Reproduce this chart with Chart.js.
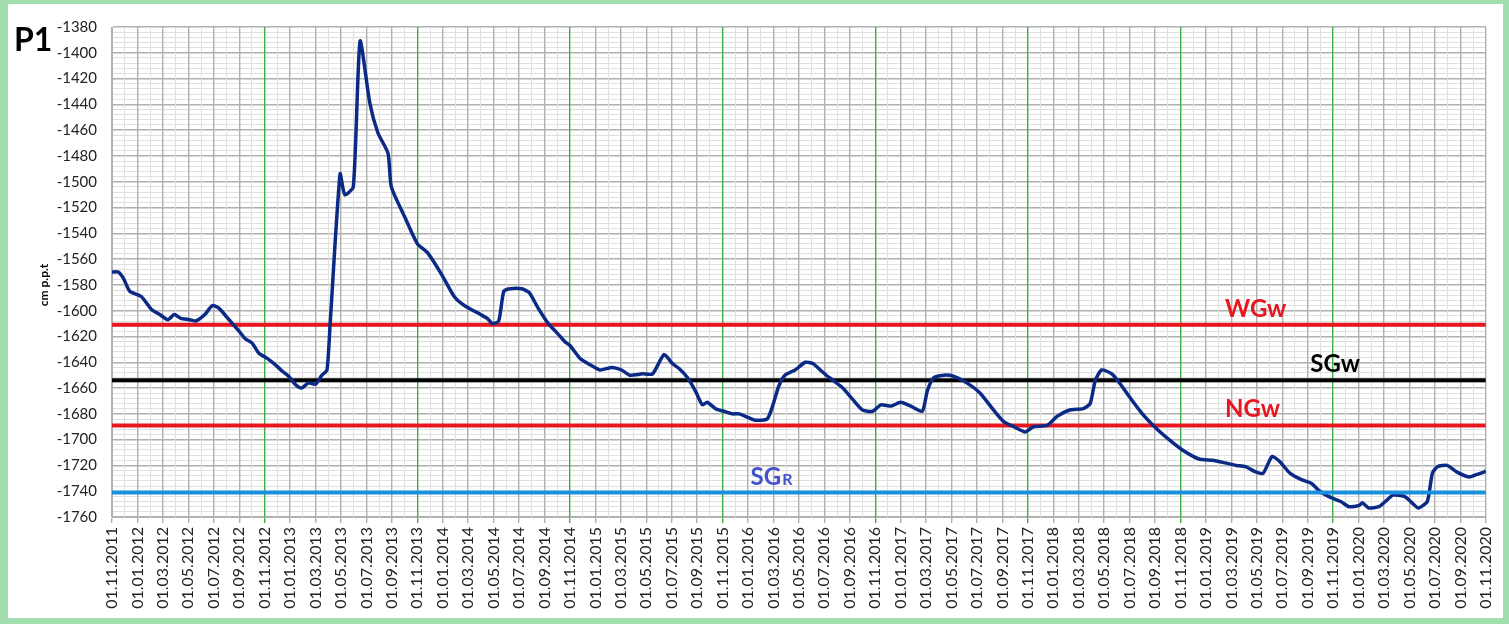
<!DOCTYPE html>
<html>
<head>
<meta charset="utf-8">
<script src="https://cdn.jsdelivr.net/npm/chart.js@4.4.1/dist/chart.umd.min.js"></script>
<style>
  html, body { margin: 0; padding: 0; overflow: hidden; background: #a3deae; }
  #wrap { position: relative; width: 1509px; height: 624px; }
</style>
</head>
<body>
<div id="wrap"><canvas id="chart"></canvas></div>
<script>
// x labels, one per two months starting 01.11.2011
const tickDates = [
    "01.11.2011", "01.01.2012", "01.03.2012", "01.05.2012", "01.07.2012", "01.09.2012",
    "01.11.2012", "01.01.2013", "01.03.2013", "01.05.2013", "01.07.2013", "01.09.2013",
    "01.11.2013", "01.01.2014", "01.03.2014", "01.05.2014", "01.07.2014", "01.09.2014",
    "01.11.2014", "01.01.2015", "01.03.2015", "01.05.2015", "01.07.2015", "01.09.2015",
    "01.11.2015", "01.01.2016", "01.03.2016", "01.05.2016", "01.07.2016", "01.09.2016",
    "01.11.2016", "01.01.2017", "01.03.2017", "01.05.2017", "01.07.2017", "01.09.2017",
    "01.11.2017", "01.01.2018", "01.03.2018", "01.05.2018", "01.07.2018", "01.09.2018",
    "01.11.2018", "01.01.2019", "01.03.2019", "01.05.2019", "01.07.2019", "01.09.2019",
    "01.11.2019", "01.01.2020", "01.03.2020", "01.05.2020", "01.07.2020", "01.09.2020",
    "01.11.2020"
];

// months since 01.11.2011
const months = [
    0, 0.5, 0.9, 1.4, 2.3, 3.1, 3.75, 4.4, 4.9, 5.4, 6.1, 6.6, 7.3, 7.9, 8.4, 9.2,
    10, 10.5, 11, 11.55, 12.2, 12.85, 13.4, 13.9, 14.4, 14.9, 15.45, 16, 16.5, 16.9,
    17.15, 17.93, 18.3, 18.97, 19.5, 20.27, 20.9, 21.7, 21.96, 23, 24, 24.8, 25.86,
    26.9, 27.7, 28.98, 29.5, 29.9, 30.4, 30.8, 31.3, 32.2, 32.8, 33.5, 34.3, 34.96,
    35.6, 36, 36.8, 37.6, 38.35, 39.3, 40.05, 40.7, 41.7, 42.5, 43.4, 44.05, 44.6,
    45.25, 45.9, 46.4, 46.8, 47.45, 48.1, 48.76, 49.3, 50.05, 50.6, 51.5, 51.9, 52.4,
    52.9, 53.7, 54.5, 55.1, 55.8, 56.4, 57.35, 58.25, 59, 59.8, 60.45, 61.25, 62,
    62.8, 63.7, 64.1, 64.6, 65.4, 66.2, 67.2, 68.25, 69.3, 70.1, 70.9, 71.8, 72.45,
    73.5, 74.3, 75.3, 76.35, 76.9, 77.3, 77.8, 78.6, 79.2, 80, 81, 82.06, 83.1,
    84.15, 85.45, 86.5, 87.5, 88.4, 89.1, 89.9, 90.5, 91.2, 91.8, 92.6, 93.5, 94.3,
    94.95, 95.85, 96.6, 97.25, 98.05, 98.3, 98.8, 99.6, 100.1, 100.7, 101.6, 102.2,
    102.7, 103.4, 103.8, 104.2, 104.96, 105.7, 106.7, 107.3, 107.9, 108
];
// water table, cm p.p.t
const level = [
    -1570, -1570, -1575, -1585, -1589, -1599, -1603, -1607, -1603, -1606, -1607, -1608, -1603, -1596, -1598, -1607,
    -1616, -1622, -1625, -1633, -1637, -1642, -1647, -1651, -1657, -1660, -1656, -1657, -1650, -1646,
    -1610, -1494, -1510, -1504, -1391, -1439, -1462, -1478, -1504, -1527, -1548, -1555, -1571,
    -1589, -1596, -1603, -1606, -1610, -1608, -1585, -1583, -1583, -1586, -1598, -1610, -1617,
    -1624, -1627, -1637, -1642, -1646, -1644, -1646, -1650, -1649, -1649, -1634, -1641, -1645,
    -1652, -1663, -1673, -1671, -1676, -1678, -1680, -1680, -1683, -1685, -1684, -1675, -1659,
    -1650, -1646, -1640, -1641, -1647, -1652, -1659, -1669, -1677, -1678, -1673, -1674, -1671,
    -1674, -1678, -1662, -1652, -1650, -1651, -1656, -1664, -1677, -1686, -1690, -1694, -1690,
    -1689, -1682, -1677, -1676, -1672, -1654, -1646, -1649, -1656, -1667, -1680, -1691, -1700,
    -1708, -1715, -1716, -1718, -1720, -1721, -1725, -1726, -1713, -1717, -1726, -1731, -1734,
    -1740, -1745, -1748, -1752, -1751, -1749, -1753, -1752, -1748, -1743, -1744, -1749,
    -1753, -1748, -1726, -1721, -1720, -1725, -1729, -1727, -1725, -1724
];

// reference levels
const refNames = ["WGw", "SGw", "NGw", "SG"];
const refValues = [-1611, -1654, -1689, -1741];
const refColors = ["#e8161e", "#000000", "#e8161e", "#1a90dc"];
const refTextColors = ["#e8161e", "#000000", "#e8161e", "#4152d0"];
const refTextMonth = [87.5, 94.2, 87.5, 50.2];

const series = months.map((m, i) => ({ x: m, y: level[i] }));

const refSets = refValues.map((v, i) => ({
    data: [{ x: 0, y: v }, { x: 108, y: v }],
    borderColor: refColors[i],
    borderWidth: 4,
    pointRadius: 0,
    order: i === 3 ? 0 : 2
}));

const framePlugin = {
    id: "frame",
    beforeDraw(chart) {
        const ctx = chart.ctx;
        ctx.save();
        ctx.fillStyle = "#a3deae";
        ctx.fillRect(0, 0, chart.width, chart.height);
        ctx.fillStyle = "#ffffff";
        ctx.fillRect(8, 4, 1495, 614);
        ctx.restore();
    },
    afterDraw(chart) {
        const ctx = chart.ctx;
        const xs = chart.scales.x;
        const ys = chart.scales.y;
        ctx.save();
        ctx.fillStyle = "#000";
        ctx.font = "bold 32px Lato";
        ctx.textBaseline = "alphabetic";
        ctx.fillText("P1", 14, 51);

        ctx.translate(48, 285);
        ctx.rotate(-Math.PI / 2);
        ctx.font = "bold 12px Lato";
        ctx.textAlign = "center";
        ctx.fillText("cm p.p.t", 0, 0);
        ctx.restore();

        ctx.save();
        ctx.font = "bold 24px Lato";
        ctx.textBaseline = "alphabetic";
        refNames.forEach((name, i) => {
            const px = xs.getPixelForValue(refTextMonth[i]);
            const py = ys.getPixelForValue(refValues[i]) - 8;
            ctx.fillStyle = refTextColors[i];
            ctx.fillText(name, px, py);
            if (i === 3) {
                const w = ctx.measureText(name).width;
                ctx.font = "bold 16px Lato";
                ctx.fillText("R", px + w + 1, py);
            }
        });
        ctx.restore();
    }
};

new Chart(document.getElementById("chart"), {
    type: "line",
    data: {
        datasets: [
            {
                data: series,
                borderColor: "#0b2a86",
                borderWidth: 3.5,
                pointRadius: 0,
                tension: 0.2,
                order: 1
            },
            ...refSets
        ]
    },
    plugins: [framePlugin],
    options: {
        responsive: true,
        maintainAspectRatio: false,
        animation: false,
        layout: { padding: { left: 0, right: 14, top: 27, bottom: 0 } },
        plugins: {
            legend: { display: false },
            tooltip: { enabled: false }
        },
        scales: {
            x: {
                type: "linear",
                min: 0,
                max: 108,
                afterFit: s => { s.height = 107; },
                border: { color: "#b4b4b4" },
                grid: {
                    tickLength: 6,
                    color: c => {
                        const v = c.tick.value;
                        if (v % 12 === 0 && v > 0 && v < 108) return "#3fae4a";
                        return v % 2 === 0 ? "#b0b0b0" : "#e0e0e0";
                    },
                    tickColor: c => {
                        const v = c.tick.value;
                        if (v % 2 !== 0) return "rgba(0,0,0,0)";
                        return v % 12 === 0 && v > 0 && v < 108 ? "#3fae4a" : "#b0b0b0";
                    },
                    lineWidth: c => (c.tick.value % 2 === 0 ? 1.4 : 1)
                },
                ticks: {
                    stepSize: 1,
                    autoSkip: false,
                    minRotation: 90,
                    maxRotation: 90,
                    padding: 4,
                    color: "#222",
                    font: { family: "Lato", size: 16 },
                    callback: v => (v % 2 === 0 ? tickDates[v / 2] : "")
                }
            },
            y: {
                min: -1760,
                max: -1380,
                afterFit: s => { s.width = 112; },
                border: { color: "#b0b0b0" },
                grid: {
                    z: -2,
                    drawTicks: false,
                    color: c => (c.tick.value % 20 === 0 ? "#b0b0b0" : "#e0e0e0"),
                    lineWidth: c => (c.tick.value % 20 === 0 ? 1.4 : 1)
                },
                ticks: {
                    stepSize: 4,
                    autoSkip: false,
                    padding: 15,
                    color: "#222",
                    font: { family: "Lato", size: 15 },
                    callback: v => (v % 20 === 0 ? v : "")
                }
            }
        }
    }
});
</script>
</body>
</html>
